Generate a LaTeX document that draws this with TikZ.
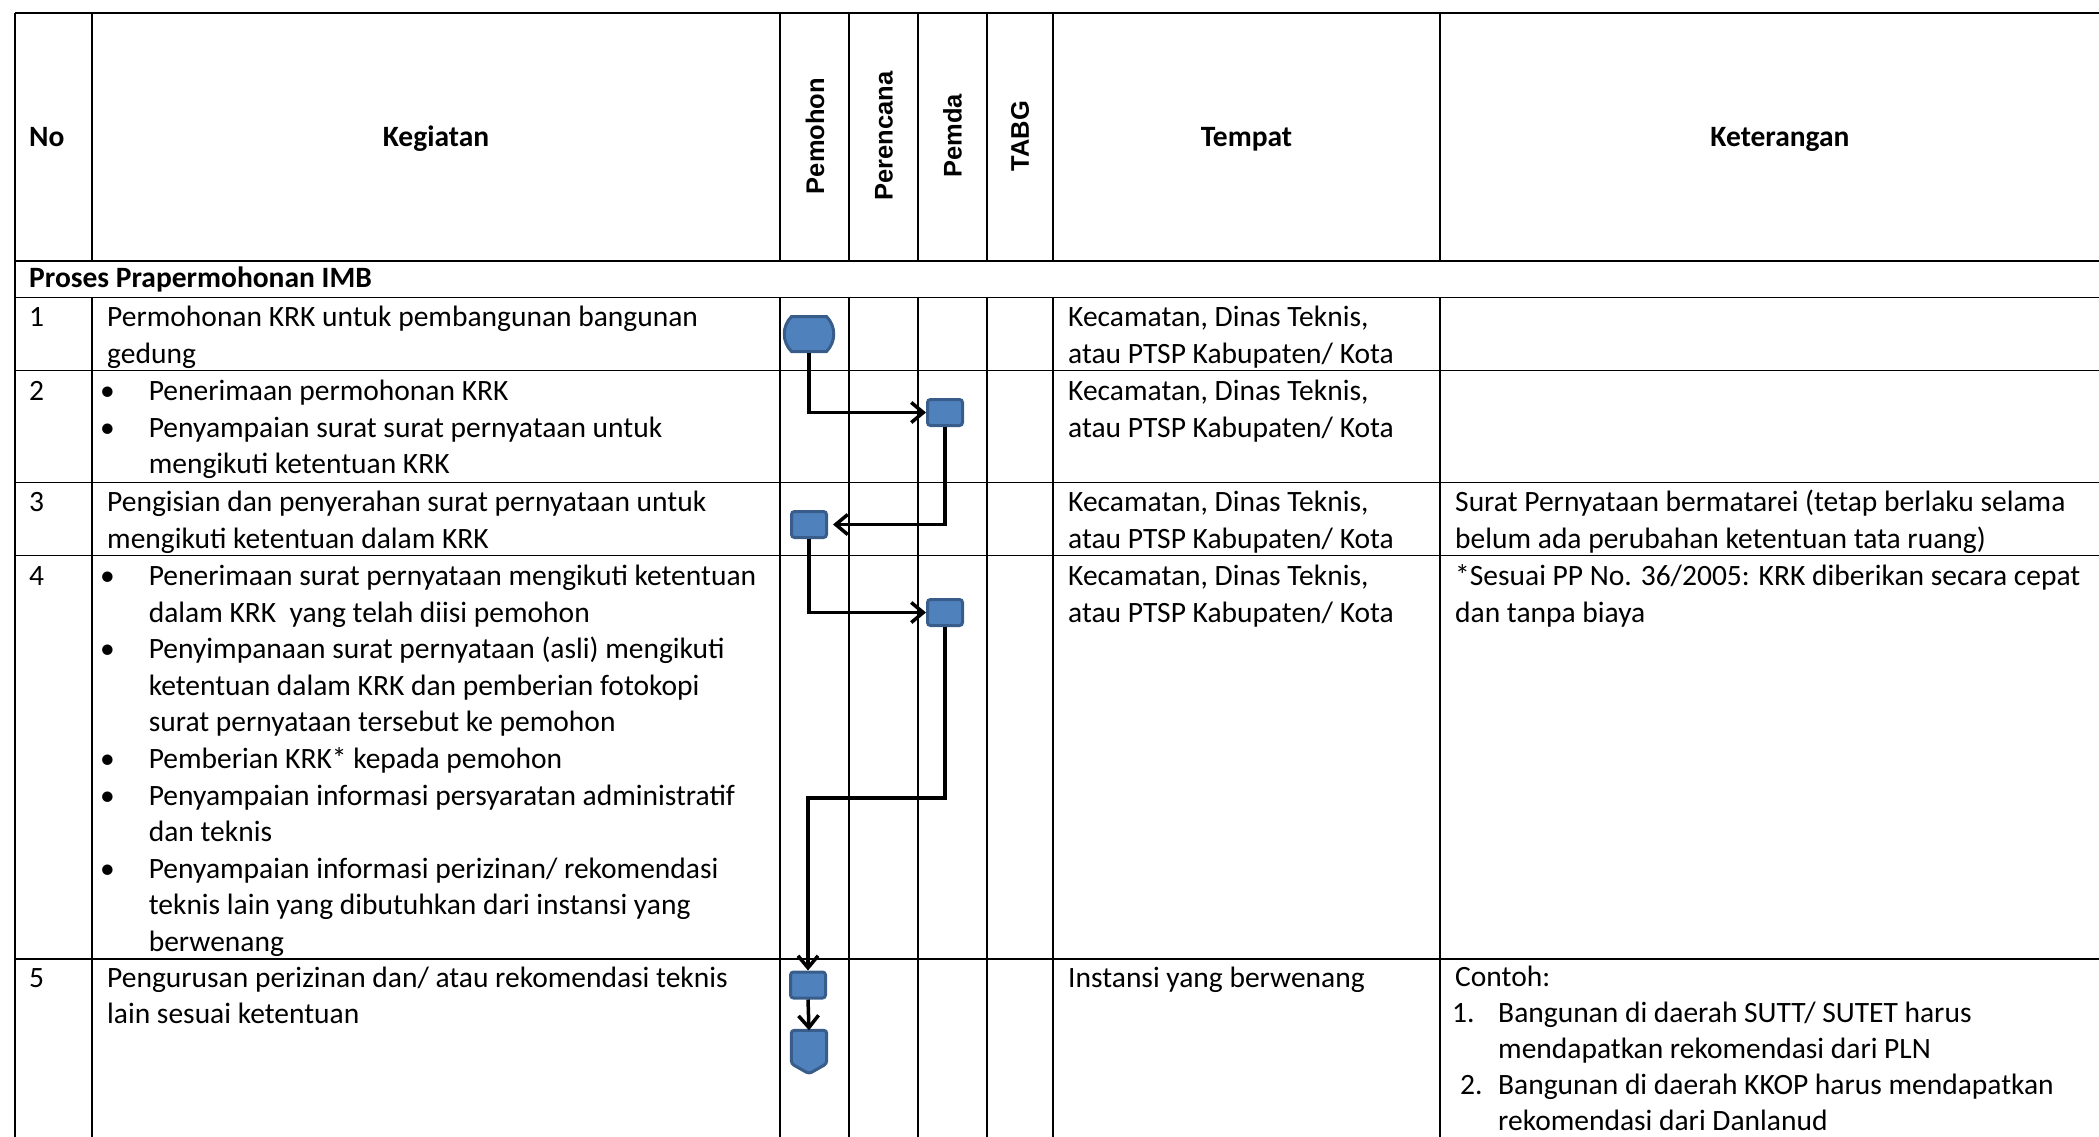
\documentclass[tikz,border=0pt]{standalone}
\usepackage{fontspec}
\setmainfont{Carlito}
\newfontfamily\lanefont{Liberation Sans}
\usetikzlibrary{arrows.meta,shapes.misc}
\definecolor{shapefill}{HTML}{4F81BD}
\definecolor{shapeline}{HTML}{385D8A}
\newcommand{\bul}{\llap{\textbullet\hspace{34pt}}}

\begin{document}
\begin{tikzpicture}[x=1pt,y=-1pt,
  grid/.style={line width=1.5pt},
  txt/.style={anchor=base west,yshift=-(#1-1)*36.6pt,inner sep=0pt,align=left,font=\fontsize{29.5}{36.6}\selectfont},
  txt/.default=1,
  head/.style={inner sep=0pt,font=\bfseries\fontsize{29.5}{36.6}\selectfont},
  lane/.style={rotate=90,inner sep=0pt,font=\lanefont\bfseries\fontsize{25.5}{30}\selectfont},
  startbox/.style={shape=rounded rectangle,rounded rectangle arc length=90,draw=shapeline,fill=shapefill,line width=3pt,minimum width=42pt,minimum height=35pt,inner sep=0pt},
  procbox/.style={draw=shapeline,fill=shapefill,line width=3pt,rounded corners=3pt,minimum width=35pt,minimum height=26pt,inner sep=0pt},
  endbox/.style={minimum width=35pt,minimum height=43pt,inner sep=0pt},
  flow/.style={-{Straight Barb[length=12pt,width=20pt]},line width=3.5pt}]
  \useasboundingbox (0,0) rectangle (2099,1136);
  \clip (0,0) rectangle (2099,1136);

  \foreach \y in {13,261,297.5,370.7,482.7,555.7,959}
    \draw[grid] (15,\y) -- (2130,\y);
  \draw[grid] (15,13) -- (15,1150);
  \foreach \x in {92,780,849,918,987,1053,1440} {
    \draw[grid] (\x,13) -- (\x,261);
    \draw[grid] (\x,297.5) -- (\x,1150);
  }

  \node[head,anchor=base west] (hno) at (29,146.5) {No};
  \node[head,anchor=base] (hkegiatan) at (436,146.5) {Kegiatan};
  \node[head,anchor=base] (htempat) at (1246.5,146.5) {Tempat};
  \node[head,anchor=base] (hket) at (1780,146.5) {Keterangan};
  \node[lane] (lpemohon) at (815,136) {Pemohon};
  \node[lane] (lperencana) at (884,136) {Perencana};
  \node[lane] (lpemda) at (952.5,136) {Pemda};
  \node[lane] (ltabg) at (1020,136) {TABG};
  \node[head,anchor=base west] (hproses) at (29,287) {Proses Prapermohonan IMB};

  \node[txt] (n1) at (29,326.5) {1};
  \node[txt=2] (k1) at (107,326.5) {Permohonan KRK untuk pembangunan bangunan\\gedung};
  \node[txt=2] (t1) at (1068,326.5) {Kecamatan, Dinas Teknis,\\atau PTSP Kabupaten/ Kota};

  \node[txt] (n2) at (29,400.5) {2};
  \node[txt=3] (k2) at (148.6,400.5) {\bul Penerimaan permohonan KRK\\\bul Penyampaian surat surat pernyataan untuk\\mengikuti ketentuan KRK};
  \node[txt=2] (t2) at (1068,400.5) {Kecamatan, Dinas Teknis,\\atau PTSP Kabupaten/ Kota};

  \node[txt] (n3) at (29,511.5) {3};
  \node[txt=2] (k3) at (107,511.5) {Pengisian dan penyerahan surat pernyataan untuk\\mengikuti ketentuan dalam KRK};
  \node[txt=2] (t3) at (1068,511.5) {Kecamatan, Dinas Teknis,\\atau PTSP Kabupaten/ Kota};
  \node[txt=2] (c3) at (1455,511.5) {Surat Pernyataan bermatarei (tetap berlaku selama\\belum ada perubahan ketentuan tata ruang)};

  \node[txt] (n4) at (29,585.5) {4};
  \node[txt=11] (k4) at (148.6,585.5) {\bul Penerimaan surat pernyataan mengikuti ketentuan\\dalam KRK\ \ yang telah diisi pemohon\\\bul Penyimpanaan surat pernyataan (asli) mengikuti\\ketentuan dalam KRK dan pemberian fotokopi\\surat pernyataan tersebut ke pemohon\\\bul Pemberian KRK* kepada pemohon\\\bul Penyampaian informasi persyaratan administratif\\dan teknis\\\bul Penyampaian informasi perizinan/ rekomendasi\\teknis lain yang dibutuhkan dari instansi yang\\berwenang};
  \node[txt=2] (t4) at (1068,585.5) {Kecamatan, Dinas Teknis,\\atau PTSP Kabupaten/ Kota};
  \node[txt=2] (c4) at (1455,585.5) {*Sesuai PP No. 36/2005: KRK diberikan secara cepat\\dan tanpa biaya};

  \node[txt] (n5) at (29,987) {5};
  \node[txt=2] (k5) at (107,987) {Pengurusan perizinan dan/ atau rekomendasi teknis\\lain sesuai ketentuan};
  \node[txt] (t5) at (1068,987) {Instansi yang berwenang};
  \node[txt=5,font=\fontsize{29.5}{36}\selectfont,yshift=2.4pt] (c5) at (1498,986.5) {\hspace*{-43pt}Contoh:\\\llap{\makebox[46pt][l]{1.}}Bangunan di daerah SUTT/ SUTET harus\\mendapatkan rekomendasi dari PLN\\\llap{\makebox[38pt][l]{2.}}Bangunan di daerah KKOP harus mendapatkan\\rekomendasi dari Danlanud};

  \node[startbox] (s1) at (809,334) {};
  \node[procbox] (b2) at (945,412.5) {};
  \node[procbox] (b3) at (809,524.5) {};
  \node[procbox] (b4) at (945,612.5) {};
  \node[procbox] (b5) at (808,985) {};
  \node[endbox] (b6) at (809,1052) {};
  \draw[draw=shapeline,fill=shapefill,line width=3pt,rounded corners=3pt] (b6.north west) -- (b6.north east) -- ([yshift=10pt]b6.south east) -- (b6.south) -- ([yshift=10pt]b6.south west) -- cycle;
  \coordinate (turn4) at (880,798);

  \draw[flow] (s1.south) |- (b2.west);
  \draw[flow,shorten >=5pt] (b2.south) |- (b3.east);
  \draw[flow] (b3.south) |- (b4.west);
  \draw[flow] (b4.south) |- (turn4) -| (b5.north);
  \draw[flow] (b5.south) -- (b6.north);
\end{tikzpicture}
\end{document}
